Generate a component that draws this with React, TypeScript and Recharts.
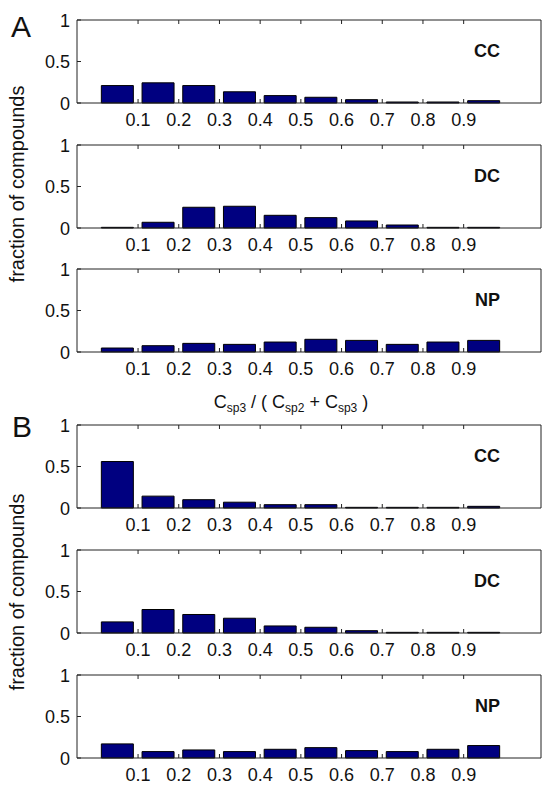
import React from "react"
import { Bar, BarChart, XAxis, YAxis } from "recharts"

const FONT = '"Liberation Sans", Arial, Helvetica, sans-serif'
const AXIS = "#222"
const INK = "#111"
const TICK = 4

// bin centres of Csp3 / (Csp2 + Csp3)
const binCenters = [0.05, 0.15, 0.25, 0.35, 0.45, 0.55, 0.65, 0.75, 0.85, 0.95]
const xTicks = [0.1, 0.2, 0.3, 0.4, 0.5, 0.6, 0.7, 0.8, 0.9]
const yTicks = [0, 0.5, 1]

// panel A
const ccA = [0.21, 0.243, 0.21, 0.135, 0.089, 0.069, 0.04, 0.012, 0.012, 0.028]
const dcA = [0.008, 0.069, 0.25, 0.262, 0.153, 0.125, 0.085, 0.036, 0.008, 0.008]
const npA = [0.048, 0.076, 0.104, 0.092, 0.12, 0.153, 0.14, 0.092, 0.12, 0.14]

// panel B
const ccB = [0.56, 0.143, 0.1, 0.07, 0.04, 0.04, 0.008, 0.008, 0.008, 0.02]
const dcB = [0.134, 0.283, 0.223, 0.178, 0.085, 0.069, 0.028, 0.008, 0.008, 0.008]
const npB = [0.17, 0.077, 0.097, 0.077, 0.105, 0.125, 0.089, 0.077, 0.105, 0.15]

const PLOT_H = 83
const M_TOP = 15
const M_BOTTOM = 28

const BottomTick = (props: any) => {
  const { x, y, payload } = props
  return (
    <g>
      <line x1={x} x2={x} y1={y} y2={y - TICK} stroke={AXIS} />
      <text x={x} y={y + 23} textAnchor="middle" fontSize={18} fontFamily={FONT} fill={INK}>
        {payload.value}
      </text>
    </g>
  )
}

const TopTick = (props: any) => {
  const { x, y } = props
  return <line x1={x} x2={x} y1={y} y2={y + TICK} stroke={AXIS} />
}

const LeftTick = (props: any) => {
  const { x, y, payload } = props
  return (
    <g>
      <line x1={x} x2={x + TICK} y1={y} y2={y} stroke={AXIS} />
      <text x={x - 7} y={y + 6.5} textAnchor="end" fontSize={18} fontFamily={FONT} fill={INK}>
        {payload.value}
      </text>
    </g>
  )
}

const RightTick = (props: any) => {
  const { x, y } = props
  return <line x1={x} x2={x - TICK} y1={y} y2={y} stroke={AXIS} />
}

const Panel = ({ values, top }: { values: number[]; top: number }) => {
  const rows = binCenters.map((x, i) => ({ x, v: values[i] }))
  return (
    <div style={{ position: "absolute", left: 0, top: top - M_TOP, width: 542, height: PLOT_H + M_TOP + M_BOTTOM }}>
      <BarChart
        width={542}
        height={PLOT_H + M_TOP + M_BOTTOM}
        data={rows}
        margin={{ top: M_TOP - 1, right: 0, bottom: M_BOTTOM - 1, left: 76 }}
      >
        <XAxis
          dataKey="x"
          type="number"
          domain={[-0.05, 1.09]}
          ticks={xTicks}
          height={1}
          tickSize={0}
          tickMargin={0}
          tickLine={false}
          tick={BottomTick}
          axisLine={{ stroke: AXIS }}
          interval={0}
        />
        <XAxis
          xAxisId="top"
          orientation="top"
          dataKey="x"
          type="number"
          domain={[-0.05, 1.09]}
          ticks={xTicks}
          height={1}
          tickSize={0}
          tickMargin={0}
          tickLine={false}
          tick={TopTick}
          axisLine={{ stroke: AXIS }}
          interval={0}
        />
        <YAxis
          type="number"
          domain={[0, 1]}
          ticks={yTicks}
          width={1}
          tickSize={0}
          tickMargin={0}
          tickLine={false}
          tick={LeftTick}
          axisLine={{ stroke: AXIS }}
          interval={0}
        />
        <YAxis
          yAxisId="right"
          orientation="right"
          type="number"
          domain={[0, 1]}
          ticks={yTicks}
          width={1}
          tickSize={0}
          tickMargin={0}
          tickLine={false}
          tick={RightTick}
          axisLine={{ stroke: AXIS }}
          interval={0}
        />
        <Bar dataKey="v" fill="#000080" stroke="#000" strokeWidth={1} barSize={32} isAnimationActive={false} />
      </BarChart>
    </div>
  )
}

const panels = [
  { values: ccA, top: 20, name: "CC" },
  { values: dcA, top: 144.5, name: "DC" },
  { values: npA, top: 269, name: "NP" },
  { values: ccB, top: 425, name: "CC" },
  { values: dcB, top: 550, name: "DC" },
  { values: npB, top: 675, name: "NP" },
]

export default function App() {
  return (
    <div style={{ position: "absolute", left: 0, top: 0, width: 542, height: 785, background: "#fff", overflow: "hidden" }}>
      {panels.map((p, i) => (
        <Panel key={i} values={p.values} top={p.top} />
      ))}
      <svg width={542} height={785} style={{ position: "absolute", left: 0, top: 0, pointerEvents: "none" }}>
        <g fontFamily={FONT} fill={INK}>
          {panels.map((p, i) => (
            <text key={i} x={500} y={p.top + 37} textAnchor="end" fontSize={18} fontWeight="bold">
              {p.name}
            </text>
          ))}
          <text x={11} y={37} fontSize={30}>A</text>
          <text x={12} y={437} fontSize={30}>B</text>
          <text transform="translate(24,184) rotate(-90)" textAnchor="middle" fontSize={20}>
            fraction of compounds
          </text>
          <text transform="translate(24,592) rotate(-90)" textAnchor="middle" fontSize={20}>
            fraction of compounds
          </text>
          <text x={291} y={408} textAnchor="middle" fontSize={18}>
            C<tspan dy={4} fontSize={12}>sp3</tspan>
            <tspan dy={-4}> / ( C</tspan>
            <tspan dy={4} fontSize={12}>sp2</tspan>
            <tspan dy={-4}> + C</tspan>
            <tspan dy={4} fontSize={12}>sp3</tspan>
            <tspan dy={-4}> )</tspan>
          </text>
        </g>
      </svg>
    </div>
  )
}
